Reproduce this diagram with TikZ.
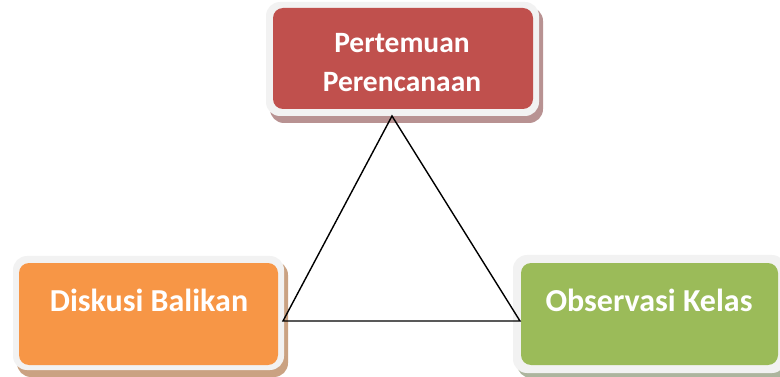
\documentclass[tikz,border=0pt]{standalone}
\usepackage{fontspec}
\setmainfont{Carlito}
\definecolor{redbox}{HTML}{C0504D}
\definecolor{orangebox}{HTML}{F79646}
\definecolor{greenbox}{HTML}{9BBB59}
\definecolor{framecol}{HTML}{F2F2F2}
\definecolor{redshadow}{HTML}{B89292}
\definecolor{orangeshadow}{HTML}{CAA282}
\definecolor{greenshadow}{HTML}{ADB59E}
\tikzset{
  framebox/.style={fill=framecol, rounded corners=14pt},
  innerbox/.style={rounded corners=10pt, inner sep=0pt, draw=none},
  label/.style={text=white, font=\bfseries\fontsize{32}{39}\selectfont, align=center, inner sep=0pt},
  toplabel/.style={label, font=\bfseries\fontsize{29.5}{39}\selectfont},
  triline/.style={draw=black, line width=1.4pt, line join=miter}
}
\begin{document}
\begin{tikzpicture}[x=1pt,y=-1pt]
\useasboundingbox (0,0) rectangle (780,377);
% top box
\fill[redshadow, rounded corners=14pt] (270,7) rectangle (543,123);
\fill[framebox] (266,2) rectangle (539,116);
\node[innerbox, fill=redbox, minimum width=260pt, minimum height=101pt] (top) at (403,58.5) {};
% left box
\fill[orangeshadow, rounded corners=14pt] (17,261) rectangle (288,377);
\fill[framebox] (13,256) rectangle (284,370);
\node[innerbox, fill=orangebox, minimum width=259pt, minimum height=102pt] (left) at (148.5,314) {};
% right box
\fill[greenshadow, rounded corners=14pt] (517,260) rectangle (790,378);
\fill[framebox] (513,255) rectangle (786,373);
\node[innerbox, fill=greenbox, minimum width=257pt, minimum height=102pt] (right) at (649.5,314) {};
% texts
\node[toplabel] (toptext) at (402,62.5) {Pertemuan\\Perencanaan};
\node[label] (lefttext) at (149,300) {Diskusi Balikan};
\node[label] (righttext) at (649,300) {Observasi Kelas};
% triangle
\coordinate (apex) at (392,116);
\coordinate (bl) at (283,321);
\coordinate (br) at (520,321);
\draw[triline] (apex) -- (bl) -- (br) -- cycle;
\end{tikzpicture}
\end{document}
